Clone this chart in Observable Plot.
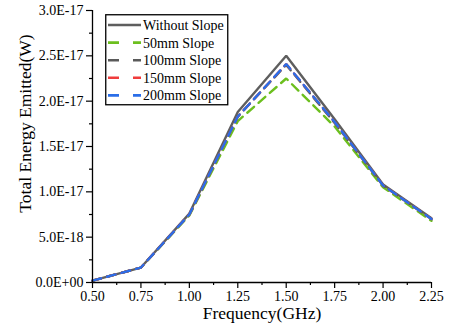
<!DOCTYPE html>
<html>
<head>
<meta charset="utf-8">
<script src="https://cdn.jsdelivr.net/npm/d3@7"></script>
<script src="https://cdn.jsdelivr.net/npm/@observablehq/plot@0.6"></script>
<style>
  html, body { margin: 0; padding: 0; background: #fff; font-family: "Liberation Serif", "Times New Roman", serif; }
  #wrap { position: relative; width: 449px; height: 325px; }
  #legend { position: absolute; left: 105px; top: 14px; }
  svg text { font-family: "Liberation Serif", "Times New Roman", serif; }
</style>
</head>
<body>
<div id="wrap"><div id="chart"></div><div id="legend"></div></div>
<script>
const freq = [0.5, 0.75, 1.0, 1.25, 1.5, 1.75, 2.0, 2.25];
const withoutSlope = [0.2e-18, 1.65e-18, 7.6e-18, 1.88e-17, 2.5e-17, 1.8e-17, 1.08e-17, 7.1e-18];
const slope50  = [0.2e-18, 1.65e-18, 7.4e-18, 1.78e-17, 2.25e-17, 1.72e-17, 1.05e-17, 6.8e-18];
const slope100 = [0.2e-18, 1.65e-18, 7.5e-18, 1.83e-17, 2.4e-17, 1.76e-17, 1.07e-17, 7.0e-18];
const slope150 = [0.2e-18, 1.65e-18, 7.5e-18, 1.83e-17, 2.41e-17, 1.77e-17, 1.07e-17, 7.0e-18];
const slope200 = [0.2e-18, 1.65e-18, 7.5e-18, 1.83e-17, 2.41e-17, 1.77e-17, 1.07e-17, 7.0e-18];

const seriesNames = ["Without Slope", "50mm Slope", "100mm Slope", "150mm Slope", "200mm Slope"];
const seriesValues = [withoutSlope, slope50, slope100, slope150, slope200];
const seriesColors = ["#5e5e5e", "#6cbf1e", "#5a5a5a", "#f03c3c", "#2a6ee8"];
const seriesDash = [null, "9,6", "9,6", "9,6", "9,6"];

const xTicks = [0.5, 0.75, 1.0, 1.25, 1.5, 1.75, 2.0, 2.25];
const xMinor = [0.625, 0.875, 1.125, 1.375, 1.625, 1.875, 2.125];
const yTicks = [0, 5e-18, 1e-17, 1.5e-17, 2e-17, 2.5e-17, 3e-17];
const yTickLabels = ["0.0E+00", "5.0E-18", "1.0E-17", "1.5E-17", "2.0E-17", "2.5E-17", "3.0E-17"];
const yMinor = [2.5e-18, 7.5e-18, 1.25e-17, 1.75e-17, 2.25e-17, 2.75e-17];

const xTitle = "Frequency(GHz)";
const yTitle = "Total Energy Emitted(W)";

const FONT = "Liberation Serif, Times New Roman, serif";

const rows = [];
seriesNames.forEach((name, i) => {
  freq.forEach((f, j) => rows.push({series: name, f, v: seriesValues[i][j]}));
});

const lineMarks = seriesNames.map((name, i) =>
  Plot.line(rows.filter(d => d.series === name), {
    x: "f", y: "v",
    stroke: seriesColors[i],
    strokeWidth: 2.4,
    strokeDasharray: seriesDash[i] || undefined,
    strokeLinejoin: "miter"
  })
);

const chart = Plot.plot({
  width: 449,
  height: 325,
  marginLeft: 92,
  marginRight: 18,
  marginTop: 10,
  marginBottom: 43,
  style: {fontFamily: FONT, fontSize: "14px", color: "black", background: "white"},
  x: {domain: [0.5, 2.25]},
  y: {domain: [0, 3e-17]},
  marks: [
    ...lineMarks,
    Plot.ruleX([0.5], {stroke: "black", strokeWidth: 1.3}),
    Plot.ruleY([0], {stroke: "black", strokeWidth: 1.3}),
    Plot.axisY({ticks: yTicks, tickSize: 6, tickPadding: 3, tickFormat: d => yTickLabels[yTicks.indexOf(d)], label: null, strokeWidth: 1.2}),
    Plot.axisY({ticks: yMinor, tickSize: 3, tickFormat: () => "", label: null, strokeWidth: 1.2}),
    Plot.axisX({ticks: xTicks, tickSize: 6, tickPadding: 3, tickFormat: d3.format(".2f"), label: null, strokeWidth: 1.2}),
    Plot.axisX({ticks: xMinor, tickSize: 3, tickFormat: () => "", label: null, strokeWidth: 1.2}),
    Plot.text([xTitle], {frameAnchor: "bottom", textAnchor: "middle", lineAnchor: "middle", dy: 31, fontSize: 17.5, fill: "black"}),
    Plot.text([yTitle], {frameAnchor: "left", textAnchor: "middle", lineAnchor: "middle", dx: -67, dy: -23, rotate: -90, fontSize: 17.5, fill: "black"})
  ]
});
document.getElementById("chart").appendChild(chart);

// Legend
const lw = 122, lh = 90, rowH = 17.6;
const leg = d3.select("#legend").append("svg").attr("width", lw + 2).attr("height", lh + 2);
leg.append("rect").attr("x", 0.75).attr("y", 0.75).attr("width", lw).attr("height", lh)
  .attr("fill", "white").attr("stroke", "black").attr("stroke-width", 1.3);
seriesNames.forEach((name, i) => {
  const cy = 11 + i * rowH;
  leg.append("line").attr("x1", 3).attr("x2", 36).attr("y1", cy).attr("y2", cy)
    .attr("stroke", seriesColors[i]).attr("stroke-width", 2.6)
    .attr("stroke-dasharray", seriesDash[i] ? "11,14" : null);
  leg.append("text").attr("x", 38).attr("y", cy).attr("dy", "0.35em")
    .attr("font-size", 14).attr("fill", "black").text(name);
});
</script>
</body>
</html>
